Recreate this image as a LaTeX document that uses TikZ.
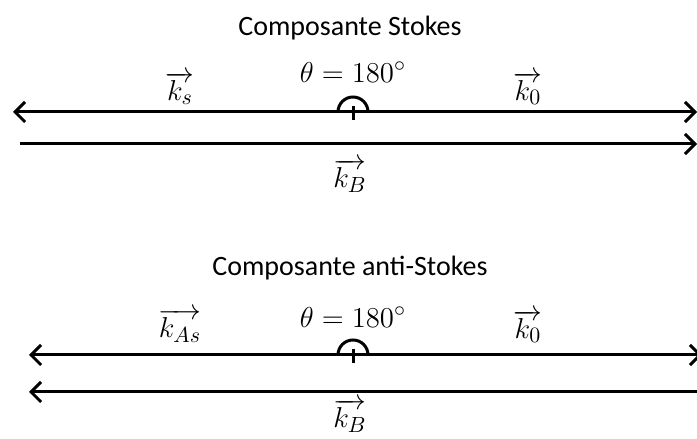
\documentclass[tikz,border=0pt]{standalone}
\usepackage{fontspec}
\setsansfont{Carlito}
\usetikzlibrary{arrows.meta,positioning}

\begin{document}
\begin{tikzpicture}[x=0.5pt, y=0.5pt,
  beam/.style={line width=1.5pt},
  >={Straight Barb[length=5pt, width=10pt]},
  title/.style={font=\sffamily\fontsize{14}{16}\selectfont},
  lbl/.style={font=\fontsize{15}{17}\selectfont, inner sep=1pt},
]
\useasboundingbox (0,0) rectangle (697,439);

% Stokes
\node[title] (t1) at (350,411) {Composante Stokes};
\coordinate (a1l) at (13,327);
\coordinate (a1r) at (697,327);
\coordinate (o1) at (353,327);
\coordinate (b1l) at (20,295);
\coordinate (b1r) at (697,295);
\draw[beam, <->] (a1l) -- (a1r);
\draw[beam, ->] (b1l) -- (b1r);
\node[lbl] (th1) at (353,367) {$\theta = 180^\circ$};
\node[lbl] (ks) at (180,351) {$\overrightarrow{k_s}$};
\node[lbl] (k01) at (528,351) {$\overrightarrow{k_0}$};
\node[lbl] (kb1) at (350,263) {$\overrightarrow{k_B}$};

% anti-Stokes
\node[title] (t2) at (350,171) {Composante anti-Stokes};
\coordinate (a2l) at (29,84);
\coordinate (a2r) at (702,84);
\coordinate (o2) at (353,84);
\coordinate (b2l) at (29,47);
\coordinate (b2r) at (697,47);
\draw[beam, <->] (a2l) -- (a2r);
\draw[beam, <-] (b2l) -- (b2r);
\node[lbl] (th2) at (353,122) {$\theta = 180^\circ$};
\node[lbl] (kas) at (180,113) {$\overrightarrow{k_{As}}$};
\node[lbl] (k02) at (528,113) {$\overrightarrow{k_0}$};
\node[lbl] (kb2) at (350,23) {$\overrightarrow{k_B}$};

% angle marks
\foreach \o in {o1,o2} {
  \draw[beam] ([xshift=-7.5pt]\o) arc[start angle=180, end angle=0, radius=7.5pt];
  \draw[beam] ([yshift=3pt]\o) -- ([yshift=-4pt]\o);
}

\end{tikzpicture}
\end{document}
